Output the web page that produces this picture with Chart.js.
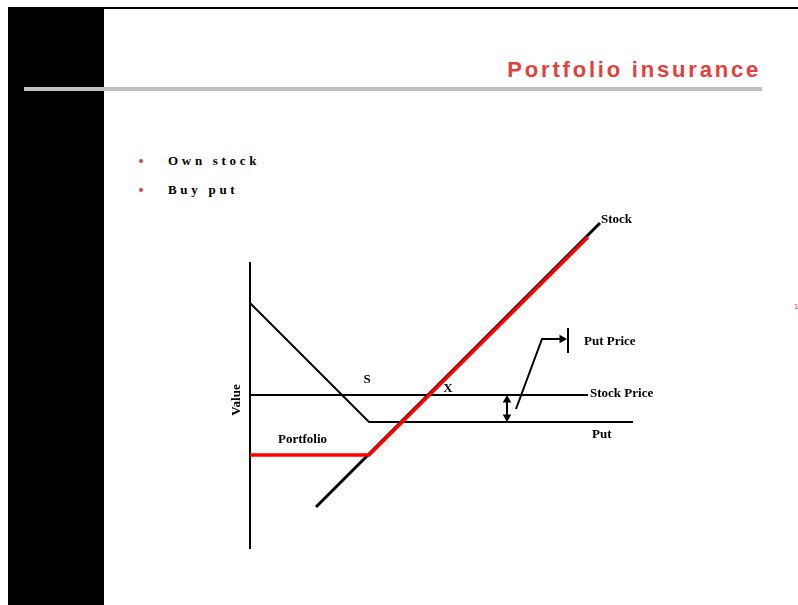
<!DOCTYPE html>
<html>
<head>
<meta charset="utf-8">
<script src="https://cdn.jsdelivr.net/npm/chart.js@4/dist/chart.umd.min.js"></script>
<style>
  body { margin: 0; background: #fff; }
  #slide { position: relative; width: 798px; height: 605px; overflow: hidden; background: #fff; }
  .topline { position: absolute; left: 8px; top: 7px; width: 790px; height: 2px; background: #000; }
  .sidebar { position: absolute; left: 8px; top: 8px; width: 96px; height: 597px; background: #000; }
  .rule { position: absolute; left: 24px; top: 87px; width: 738px; height: 4px; background: #c0c0c0; }
  .title { position: absolute; right: 37px; top: 57px; font: bold 22px "Liberation Sans", Arial, sans-serif;
           letter-spacing: 2.8px; color: #e2403d; }
  .bullet { position: absolute; left: 168px; font: bold 13px "Liberation Serif", "Times New Roman", serif;
            letter-spacing: 3.7px; color: #000; }
  .dot { position: absolute; left: 139px; width: 4px; height: 4px; border-radius: 50%; background: #e2403d; }
  .pageno { position: absolute; left: 794px; top: 302px; font: 8px "Liberation Sans", sans-serif; color: #e2403d; }
  canvas { position: absolute; left: 0; top: 0; }
</style>
</head>
<body>
<div id="slide">
  <div class="sidebar"></div>
  <div class="topline"></div>
  <div class="rule"></div>
  <div class="title">Portfolio insurance</div>
  <div class="dot" style="top:159px"></div>
  <div class="bullet" style="top:153px">Own stock</div>
  <div class="dot" style="top:188px"></div>
  <div class="bullet" style="top:182px">Buy put</div>
  <div class="pageno">1</div>
  <canvas id="chart" width="798" height="605"></canvas>
</div>
<script>
// payoff diagram, x = stock price at expiry, y = value
const valueAxis = [{x: 0, y: 0}, {x: 0, y: 28.7}];
const stockPriceLine = [{x: 0, y: 15.4}, {x: 33.8, y: 15.4}];
const putPayoff = [{x: 0, y: 24.6}, {x: 11.9, y: 12.7}, {x: 38.3, y: 12.7}];
const stockPayoff = [{x: 6.6, y: 4.2}, {x: 35, y: 32.6}];
const portfolioPayoff = [{x: 0, y: 9.4}, {x: 11.9, y: 9.4}, {x: 33.8, y: 31.2}];
const putPriceGap = [{x: 25.7, y: 14.9}, {x: 25.7, y: 13.2}];
const calloutLine = [{x: 26.6, y: 14.0}, {x: 29.2, y: 21.0}, {x: 31.2, y: 21.0}];
const calloutBar = [{x: 31.8, y: 22.1}, {x: 31.8, y: 19.6}];

const labelTexts = ['Stock', 'Put Price', 'S', 'X', 'Stock Price', 'Put', 'Portfolio'];
const labelAt = [[35.1, 32.9], [33.4, 20.7], [11.7, 16.9], [19.8, 16.0], [34.0, 15.5], [34.2, 11.4], [2.8, 10.9]];
const labelAlign = ['left', 'left', 'center', 'center', 'left', 'left', 'left'];
const axisTitle = 'Value';

function line(data, color, width, extra) {
    return Object.assign({
        data: data,
        showLine: true,
        borderColor: color,
        borderWidth: width,
        pointRadius: 0,
        borderCapStyle: 'butt',
        clip: false,
        tension: 0
    }, extra || {});
}

const labelPlugin = {
    id: 'labels',
    afterDatasetsDraw(chart) {
        const ctx = chart.ctx;
        const xs = chart.scales.x, ys = chart.scales.y;
        ctx.save();
        ctx.fillStyle = '#000';
        ctx.font = 'bold 13px "Liberation Serif", "Times New Roman", serif';
        ctx.textBaseline = 'middle';
        labelTexts.forEach(function(t, i) {
            ctx.textAlign = labelAlign[i];
            ctx.fillText(t, xs.getPixelForValue(labelAt[i][0]), ys.getPixelForValue(labelAt[i][1]));
        });
        ctx.translate(xs.getPixelForValue(-1.3), ys.getPixelForValue(14.9));
        ctx.rotate(-Math.PI / 2);
        ctx.textAlign = 'center';
        ctx.fillText(axisTitle, 0, 0);
        ctx.restore();
    }
};

new Chart(document.getElementById('chart'), {
    type: 'scatter',
    data: {
        datasets: [
            line(valueAxis, '#000', 2),
            line(stockPriceLine, '#000', 2),
            line(putPayoff, '#000', 2),
            line(stockPayoff, '#000', 3),
            line(portfolioPayoff, '#f00', 3.5, { order: -1 }),
            line(putPriceGap, '#000', 2, {
                pointRadius: 5, pointStyle: 'triangle', rotation: [0, 180],
                pointBackgroundColor: '#000', pointBorderWidth: 0
            }),
            line(calloutLine, '#000', 2, {
                pointRadius: [0, 0, 5], pointStyle: 'triangle', rotation: 90,
                pointBackgroundColor: '#000', pointBorderWidth: 0
            }),
            line(calloutBar, '#000', 2)
        ]
    },
    options: {
        responsive: false,
        animation: false,
        devicePixelRatio: 1,
        layout: { padding: { left: 250, right: 148, top: 259, bottom: 56 } },
        plugins: { legend: { display: false }, tooltip: { enabled: false } },
        scales: {
            x: { type: 'linear', min: 0, max: 40, display: false },
            y: { type: 'linear', min: 0, max: 29, display: false }
        }
    },
    plugins: [labelPlugin]
});
</script>
</body>
</html>
